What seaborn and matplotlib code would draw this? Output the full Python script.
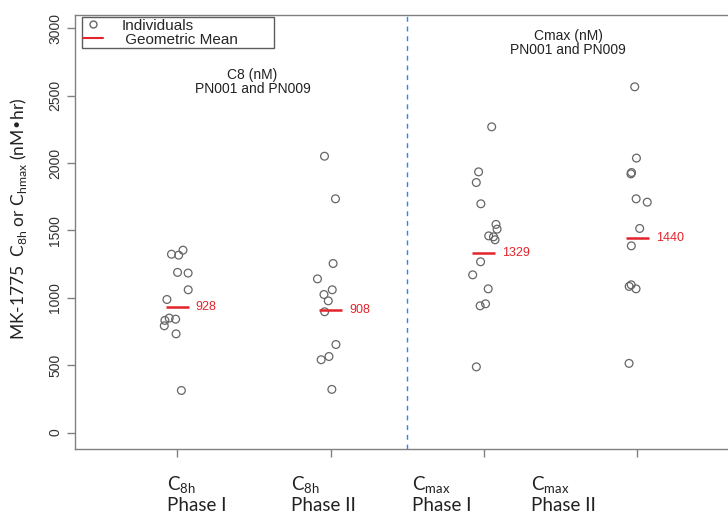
import numpy as np
import pandas as pd
import matplotlib
matplotlib.use("Agg")
import matplotlib.pyplot as plt
import matplotlib.transforms as mtransforms
from matplotlib.lines import Line2D
import seaborn as sns

# ---- data ----
groups = ["C8h Phase I", "C8h Phase II", "Cmax Phase I", "Cmax Phase II"]
c8h_phase1 = [1316, 1353, 1323, 1188, 1183, 1059, 987, 849, 832, 841, 792, 732, 312]
c8h_phase2 = [2050, 1734, 1254, 1140, 1059, 1024, 977, 896, 653, 564, 540, 320]
cmax_phase1 = [2268, 1934, 1855, 1697, 1544, 1509, 1459, 1430, 1452, 1267, 1170, 1066, 955, 940, 487]
cmax_phase2 = [2565, 2036, 1919, 1929, 1734, 1709, 1514, 1385, 1096, 1066, 1084, 513]
geo_means = [928, 908, 1329, 1440]
tick_top = ["C$_{\\mathregular{8h}}$", "C$_{\\mathregular{8h}}$", "C$_{\\mathregular{max}}$", "C$_{\\mathregular{max}}$"]
tick_bottom = ["Phase I", "Phase II", "Phase I", "Phase II"]
yticks = [0, 500, 1000, 1500, 2000, 2500, 3000]

df = pd.DataFrame({
    "group": np.repeat(groups, [len(c8h_phase1), len(c8h_phase2), len(cmax_phase1), len(cmax_phase2)]),
    "value": c8h_phase1 + c8h_phase2 + cmax_phase1 + cmax_phase2,
})

sns.set_style("white")
plt.rcParams["font.family"] = ["Liberation Sans", "DejaVu Sans"]

fig = plt.figure(figsize=(7.28, 5.21), dpi=100)
ax = fig.add_axes([0.103, 0.138, 0.903, 0.833])

np.random.seed(3)
sns.stripplot(data=df, x="group", y="value", order=groups, jitter=0.09,
              color="#666666", size=5.6, linewidth=0.9, edgecolor="#666666", ax=ax)
for coll in ax.collections:
    coll.set_facecolor("none")
    coll.set_edgecolor("#666666")
    coll.set_linewidth(0.9)

red = "#e3242b"
for i, m in enumerate(geo_means):
    ax.hlines(m, i - 0.075, i + 0.075, color=red, lw=1.8, zorder=5)
    ax.text(i + 0.12, m, f"{m}", color=red, fontsize=9, ha="left", va="center")

ax.axvline(1.5, color="#1e88ff", lw=1.0, ls=(0, (3.5, 3.5)))

ax.set_xlim(-0.667, 3.62)
ax.set_ylim(-123, 3097)
ax.set_yticks(yticks)
ax.set_yticklabels([str(t) for t in yticks], rotation=90, va="center", fontsize=10, color="#333333")
ax.set_xticks(range(4))
ax.set_xticklabels([""] * 4)
ax.tick_params(axis="both", direction="out", length=6, width=1, color="#808080", pad=3, left=True, bottom=True)
for s in ["left", "bottom", "top"]:
    ax.spines[s].set_color("#808080")
    ax.spines[s].set_linewidth(1)
ax.spines["right"].set_visible(False)
ax.set_xlabel("")
ax.set_ylabel("")

# x labels (two lines, Calibri-like font)
trans = mtransforms.blended_transform_factory(ax.transData, ax.transAxes)
label_x = [-0.065, 0.74, 1.53, 2.31]
for lx, t1, t2 in zip(label_x, tick_top, tick_bottom):
    ax.text(lx, -0.083, t1, transform=trans, fontsize=13.5, family="Lato", ha="left", va="center", color="#222222")
    ax.text(lx, -0.130, t2, transform=trans, fontsize=13.5, family="Lato", ha="left", va="center", color="#222222")

fig.text(0.025, 0.58, "MK-1775  C$_{\\mathregular{8h}}$ or C$_{\\mathregular{hmax}}$ (nM\u2022hr)",
         rotation=90, ha="center", va="center", fontsize=12.5, family="Lato", color="#222222")

# panel annotations
ax.text(0.27, 0.845, "C8 (nM)\nPN001 and PN009", transform=ax.transAxes, ha="center", va="center",
        fontsize=10, linespacing=1.0, color="#222222")
ax.text(0.75, 0.935, "Cmax (nM)\nPN001 and PN009", transform=ax.transAxes, ha="center", va="center",
        fontsize=10, linespacing=1.0, color="#222222")

handles = [Line2D([], [], marker="o", ls="none", mfc="none", mec="#666666", ms=5),
           Line2D([], [], color=red, lw=1.5)]
leg = ax.legend(handles, ["Individuals", " Geometric Mean        "], loc="upper left",
                bbox_to_anchor=(0.01, 0.995), frameon=True, fancybox=False, fontsize=11,
                borderpad=0.1, labelspacing=0.0, handlelength=1.3, handletextpad=1.2,
                borderaxespad=0)
leg.get_frame().set_edgecolor("#333333")
leg.get_frame().set_linewidth(1)

fig.savefig("out.png", dpi=100)
